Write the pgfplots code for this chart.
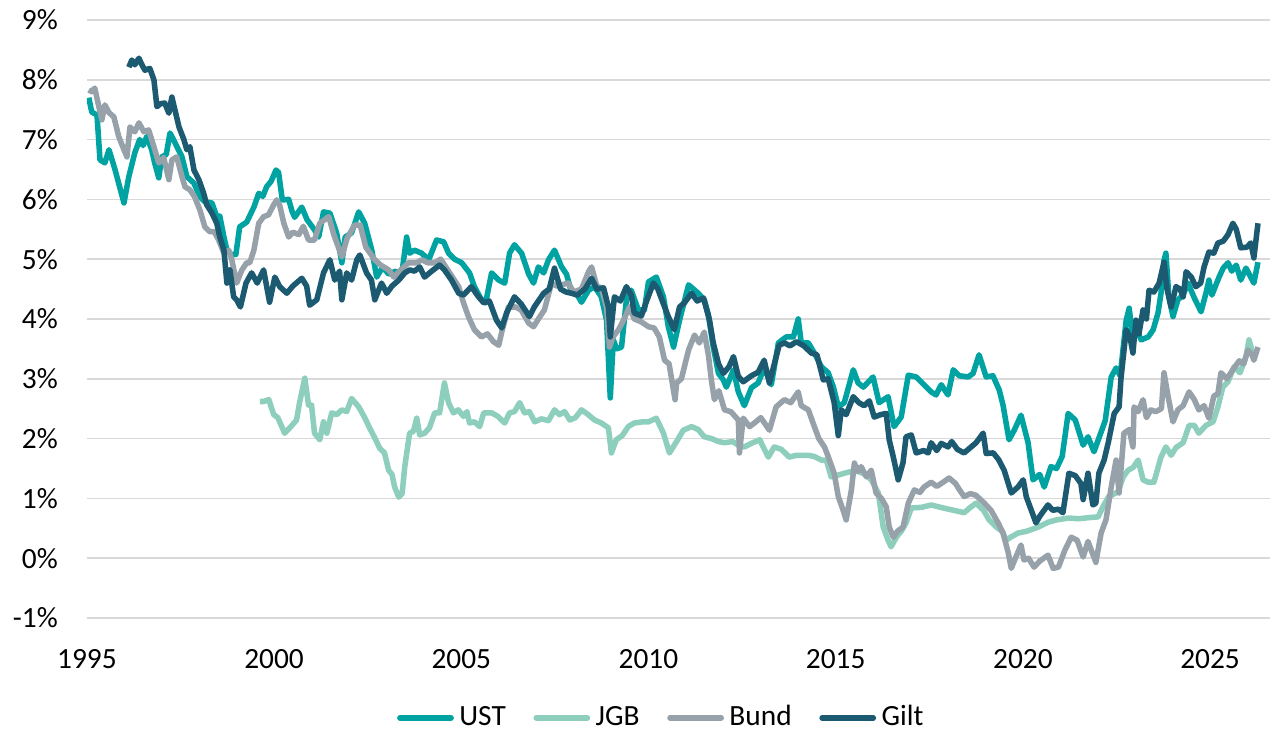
\documentclass[border=0pt]{standalone}
\usepackage{fontspec}
\setmainfont{Carlito}
\usepackage{pgfplots}
\pgfplotsset{compat=1.18}
\definecolor{ust}{RGB}{0,163,161}
\definecolor{jgb}{RGB}{141,207,188}
\definecolor{bund}{RGB}{151,161,169}
\definecolor{gilt}{RGB}{27,90,112}
\definecolor{gridgray}{RGB}{217,217,217}

\begin{document}
\begin{tikzpicture}
\useasboundingbox (-31.4pt,-42.6pt) rectangle (428.6pt,223.3pt);
\begin{axis}[
    scale only axis,
    width=427.5pt, height=216.1pt,
    xmin=1995, xmax=2026.6,
    ymin=-1, ymax=9,
    xtick={1995,2000,...,2025},
    ytick={-1,0,...,9},
    yticklabel={\pgfmathprintnumber{\tick}\%},
    /pgf/number format/assume math mode=true,
    /pgf/number format/1000 sep={},
    ticklabel style={font=\fontsize{10.6}{12}\selectfont, text=black},
    xticklabel style={yshift=-8pt},
    yticklabel style={xshift=-7pt},
    axis line style={draw=none},
    tick style={draw=none},
    ymajorgrids,
    major grid style={color=gridgray, line width=0.6pt},
    every axis plot/.append style={line width=2pt, line join=round, mark=none},
    legend columns=4,
    legend style={at={(0.487,-0.167)}, anchor=center, draw=none, fill=none,
        font=\fontsize{10.6}{12}\selectfont,
        /tikz/every even column/.append style={column sep=8pt}},
    legend image code/.code={\draw[#1, line cap=round] (0pt,0pt) -- (18.5pt,0pt);},
    legend cell align=left,
]
% UST
\addplot[color=ust] coordinates {
(1995.05,7.70) (1995.13,7.46) (1995.27,7.41) (1995.35,6.66) (1995.48,6.61) (1995.59,6.83)
(1995.75,6.50) (1995.99,5.94) (1996.12,6.38) (1996.28,6.78) (1996.41,7.00) (1996.50,6.90)
(1996.60,7.05) (1996.73,6.83) (1996.81,6.61) (1996.92,6.36) (1997.00,6.71) (1997.12,6.75)
(1997.22,7.11) (1997.35,6.95) (1997.54,6.71) (1997.67,6.38) (1997.86,6.27) (1998.02,6.04)
(1998.15,5.96) (1998.34,5.94) (1998.47,5.71) (1998.55,5.72) (1998.66,5.37) (1998.74,5.15)
(1998.87,5.07) (1998.98,5.08) (1999.08,5.54) (1999.27,5.62) (1999.46,5.87) (1999.59,6.10)
(1999.70,6.05) (1999.80,6.21) (1999.92,6.30) (2000.05,6.49) (2000.12,6.45) (2000.22,5.99)
(2000.39,6.00) (2000.48,5.80) (2000.55,5.70) (2000.74,5.87) (2000.88,5.66) (2001.08,5.49)
(2001.19,5.37) (2001.32,5.79) (2001.49,5.77) (2001.67,5.44) (2001.81,4.94) (2001.90,5.37)
(2002.07,5.44) (2002.26,5.79) (2002.42,5.60) (2002.61,5.15) (2002.74,4.70) (2002.90,4.87)
(2003.06,4.75) (2003.25,4.80) (2003.40,4.70) (2003.54,5.37) (2003.62,5.10) (2003.75,5.15)
(2003.94,5.10) (2004.13,4.99) (2004.34,5.32) (2004.53,5.29) (2004.66,5.10) (2004.82,5.00)
(2005.01,4.94) (2005.22,4.77) (2005.35,4.54) (2005.54,4.32) (2005.65,4.27) (2005.81,4.77)
(2006.00,4.65) (2006.16,4.60) (2006.29,5.10) (2006.42,5.24) (2006.61,5.10) (2006.80,4.75)
(2006.93,4.60) (2007.06,4.87) (2007.20,4.77) (2007.33,4.99) (2007.49,5.15) (2007.68,4.87)
(2007.81,4.75) (2007.94,4.45) (2008.10,4.40) (2008.21,4.28) (2008.40,4.48) (2008.56,4.54)
(2008.74,4.37) (2008.88,3.98) (2008.98,2.68) (2009.06,3.65) (2009.15,3.50) (2009.28,3.53)
(2009.41,4.32) (2009.54,4.48) (2009.73,4.15) (2009.89,4.15) (2010.00,4.62) (2010.21,4.70)
(2010.40,4.37) (2010.53,3.87) (2010.67,3.53) (2010.83,3.98) (2011.07,4.57) (2011.33,4.43)
(2011.49,4.32) (2011.60,4.07) (2011.73,3.53) (2011.87,3.09) (2012.00,2.98) (2012.08,2.86)
(2012.27,3.15) (2012.40,2.78) (2012.56,2.55) (2012.75,2.85) (2012.93,2.93) (2013.09,3.18)
(2013.28,2.90) (2013.47,3.60) (2013.68,3.70) (2013.87,3.70) (2014.00,4.00) (2014.08,3.60)
(2014.27,3.60) (2014.43,3.43) (2014.62,3.20) (2014.80,3.10) (2014.94,2.86) (2015.07,2.53)
(2015.23,2.60) (2015.47,3.15) (2015.60,2.93) (2015.74,2.86) (2016.00,3.03) (2016.16,2.60)
(2016.40,2.70) (2016.56,2.20) (2016.75,2.36) (2016.94,3.06) (2017.15,3.03) (2017.36,2.90)
(2017.55,2.78) (2017.68,2.73) (2017.82,2.90) (2018.00,2.73) (2018.14,3.15) (2018.30,3.05)
(2018.54,3.03) (2018.67,3.09) (2018.83,3.40) (2019.02,3.03) (2019.20,3.05) (2019.37,2.81)
(2019.47,2.56) (2019.63,1.98) (2019.77,2.14) (2019.95,2.39) (2020.14,1.93) (2020.27,1.31)
(2020.45,1.40) (2020.57,1.19) (2020.75,1.53) (2020.90,1.50) (2021.05,1.70) (2021.21,2.42)
(2021.40,2.31) (2021.61,1.89) (2021.74,2.03) (2021.90,1.78) (2022.09,2.11) (2022.20,2.30)
(2022.36,3.03) (2022.49,3.18) (2022.60,3.05) (2022.76,3.98) (2022.84,4.18) (2022.94,3.65)
(2023.02,3.85) (2023.16,3.65) (2023.35,3.70) (2023.48,3.82) (2023.61,4.10) (2023.69,4.43)
(2023.77,4.98) (2023.82,5.10) (2023.90,4.37) (2024.01,4.04) (2024.14,4.32) (2024.28,4.40)
(2024.41,4.60) (2024.58,4.35) (2024.76,4.12) (2024.89,4.43) (2024.97,4.65) (2025.05,4.40)
(2025.24,4.70) (2025.35,4.85) (2025.48,4.94) (2025.58,4.80) (2025.70,4.90) (2025.82,4.65)
(2025.96,4.85) (2026.17,4.60) (2026.28,4.95)
};
\addlegendentry{UST}
% JGB
\addplot[color=jgb] coordinates {
(1999.62,2.62) (1999.72,2.62) (1999.86,2.65) (1999.99,2.40) (2000.10,2.35) (2000.28,2.09)
(2000.45,2.20) (2000.60,2.31) (2000.68,2.60) (2000.82,3.01) (2000.92,2.56) (2001.00,2.56)
(2001.08,2.09) (2001.22,1.98) (2001.32,2.28) (2001.41,2.09) (2001.54,2.43) (2001.67,2.40)
(2001.81,2.48) (2001.94,2.45) (2002.07,2.67) (2002.26,2.53) (2002.42,2.35) (2002.55,2.18)
(2002.69,2.01) (2002.82,1.84) (2002.95,1.76) (2003.06,1.47) (2003.15,1.40) (2003.22,1.19)
(2003.33,1.02) (2003.42,1.08) (2003.49,1.53) (2003.62,2.09) (2003.72,2.12) (2003.81,2.34)
(2003.89,2.06) (2004.02,2.09) (2004.15,2.18) (2004.29,2.43) (2004.42,2.43) (2004.55,2.93)
(2004.66,2.60) (2004.79,2.43) (2004.92,2.48) (2005.06,2.37) (2005.15,2.45) (2005.22,2.26)
(2005.35,2.28) (2005.49,2.20) (2005.60,2.43) (2005.81,2.43) (2005.98,2.37) (2006.16,2.26)
(2006.29,2.43) (2006.42,2.45) (2006.56,2.60) (2006.69,2.43) (2006.82,2.45) (2006.96,2.28)
(2007.14,2.33) (2007.33,2.30) (2007.49,2.48) (2007.62,2.40) (2007.76,2.45) (2007.90,2.31)
(2008.05,2.35) (2008.21,2.48) (2008.35,2.42) (2008.56,2.31) (2008.74,2.26) (2008.93,2.18)
(2009.01,1.76) (2009.14,1.98) (2009.30,2.05) (2009.46,2.20) (2009.62,2.26) (2009.85,2.28)
(2010.00,2.28) (2010.21,2.34) (2010.40,2.09) (2010.56,1.76) (2010.75,1.95) (2010.93,2.14)
(2011.15,2.20) (2011.33,2.15) (2011.49,2.03) (2011.68,2.00) (2011.87,1.95) (2012.03,1.93)
(2012.25,1.95) (2012.40,1.89) (2012.56,1.86) (2012.75,1.92) (2012.97,1.98) (2013.20,1.69)
(2013.36,1.86) (2013.55,1.82) (2013.76,1.69) (2013.95,1.72) (2014.27,1.72) (2014.43,1.70)
(2014.62,1.64) (2014.75,1.64) (2014.88,1.36) (2015.02,1.38) (2015.23,1.42) (2015.42,1.45)
(2015.60,1.45) (2015.80,1.40) (2015.95,1.31) (2016.14,1.09) (2016.27,0.52) (2016.40,0.30)
(2016.48,0.19) (2016.62,0.35) (2016.75,0.45) (2016.88,0.59) (2017.02,0.84) (2017.30,0.85)
(2017.55,0.89) (2017.80,0.85) (2018.08,0.81) (2018.30,0.78) (2018.43,0.76) (2018.60,0.85)
(2018.75,0.92) (2018.95,0.80) (2019.10,0.64) (2019.29,0.52) (2019.45,0.45) (2019.55,0.30)
(2019.70,0.36) (2019.87,0.42) (2020.10,0.45) (2020.41,0.52) (2020.67,0.60) (2020.90,0.64)
(2021.21,0.67) (2021.50,0.66) (2021.80,0.68) (2022.01,0.69) (2022.14,0.86) (2022.28,1.02)
(2022.45,1.08) (2022.54,1.11) (2022.68,1.36) (2022.81,1.47) (2022.95,1.52) (2023.08,1.64)
(2023.21,1.31) (2023.35,1.27) (2023.50,1.27) (2023.69,1.69) (2023.82,1.86) (2023.96,1.72)
(2024.09,1.85) (2024.28,1.93) (2024.44,2.22) (2024.58,2.22) (2024.70,2.09) (2024.89,2.22)
(2025.08,2.28) (2025.21,2.53) (2025.34,2.86) (2025.48,2.95) (2025.64,3.20) (2025.80,3.10)
(2025.96,3.37) (2026.04,3.65) (2026.14,3.43)
};
\addlegendentry{JGB}
% Bund
\addplot[color=bund] coordinates {
(1995.05,7.83) (1995.13,7.80) (1995.21,7.86) (1995.32,7.55) (1995.40,7.33) (1995.48,7.58)
(1995.59,7.45) (1995.72,7.38) (1995.85,7.05) (1995.99,6.83) (1996.07,6.71) (1996.15,7.21)
(1996.28,7.13) (1996.39,7.28) (1996.52,7.13) (1996.65,7.16) (1996.79,6.88) (1996.92,6.61)
(1997.05,6.70) (1997.19,6.33) (1997.27,6.66) (1997.40,6.71) (1997.54,6.38) (1997.62,6.21)
(1997.75,6.16) (1997.88,6.04) (1998.02,5.82) (1998.15,5.54) (1998.28,5.46) (1998.40,5.46)
(1998.52,5.32) (1998.66,5.10) (1998.79,5.15) (1998.87,4.99) (1999.00,4.60) (1999.14,4.82)
(1999.27,4.94) (1999.35,4.94) (1999.46,5.15) (1999.59,5.60) (1999.72,5.71) (1999.85,5.74)
(1999.99,5.91) (2000.07,5.99) (2000.15,5.90) (2000.26,5.60) (2000.39,5.37) (2000.50,5.45)
(2000.66,5.41) (2000.78,5.55) (2000.92,5.32) (2001.08,5.32) (2001.22,5.60) (2001.46,5.71)
(2001.60,5.40) (2001.81,5.04) (2001.95,5.35) (2002.15,5.57) (2002.30,5.57) (2002.45,5.20)
(2002.69,4.99) (2002.85,4.90) (2003.06,4.82) (2003.20,4.70) (2003.35,4.80) (2003.59,4.94)
(2003.80,4.94) (2003.95,4.99) (2004.10,4.94) (2004.29,4.94) (2004.45,5.00) (2004.69,4.77)
(2004.93,4.54) (2005.06,4.27) (2005.19,4.04) (2005.35,3.82) (2005.54,3.70) (2005.70,3.75)
(2005.86,3.62) (2006.00,3.56) (2006.08,3.78) (2006.26,4.20) (2006.45,4.20) (2006.60,4.15)
(2006.80,3.93) (2006.93,3.87) (2007.06,4.00) (2007.22,4.15) (2007.41,4.60) (2007.55,4.55)
(2007.86,4.60) (2008.00,4.45) (2008.21,4.50) (2008.40,4.79) (2008.48,4.87) (2008.62,4.55)
(2008.74,4.52) (2008.88,4.20) (2008.96,3.53) (2009.05,3.70) (2009.20,3.82) (2009.35,4.00)
(2009.49,4.20) (2009.62,4.00) (2009.81,3.95) (2010.00,3.87) (2010.15,3.85) (2010.29,3.70)
(2010.43,3.31) (2010.55,3.25) (2010.71,2.65) (2010.75,2.93) (2010.88,3.00) (2011.07,3.48)
(2011.23,3.73) (2011.36,3.60) (2011.49,3.78) (2011.60,3.40) (2011.68,2.98) (2011.76,2.65)
(2011.88,2.80) (2012.03,2.48) (2012.20,2.45) (2012.40,2.31) (2012.43,1.76) (2012.53,2.34)
(2012.70,2.20) (2012.83,2.26) (2013.00,2.35) (2013.23,2.14) (2013.41,2.53) (2013.63,2.65)
(2013.80,2.60) (2014.00,2.78) (2014.08,2.55) (2014.27,2.48) (2014.43,2.20) (2014.55,2.00)
(2014.70,1.86) (2014.80,1.70) (2014.96,1.42) (2015.07,1.03) (2015.20,0.80) (2015.28,0.64)
(2015.42,1.14) (2015.50,1.59) (2015.60,1.45) (2015.68,1.53) (2015.82,1.36) (2015.95,1.47)
(2016.08,1.09) (2016.22,1.00) (2016.35,0.86) (2016.43,0.52) (2016.54,0.35) (2016.65,0.45)
(2016.80,0.52) (2016.94,0.92) (2017.10,1.14) (2017.25,1.10) (2017.36,1.19) (2017.55,1.27)
(2017.70,1.20) (2017.87,1.27) (2018.03,1.34) (2018.20,1.25) (2018.30,1.15) (2018.43,1.03)
(2018.60,1.08) (2018.75,1.05) (2018.97,0.92) (2019.15,0.80) (2019.34,0.59) (2019.47,0.42)
(2019.61,0.09) (2019.69,-0.17) (2019.80,0.00) (2019.95,0.22) (2020.03,-0.03) (2020.15,0.00)
(2020.30,-0.15) (2020.45,-0.05) (2020.67,0.05) (2020.81,-0.17) (2020.95,-0.15) (2021.12,0.13)
(2021.29,0.35) (2021.45,0.30) (2021.61,0.02) (2021.74,0.28) (2021.95,-0.07) (2022.09,0.42)
(2022.22,0.64) (2022.36,1.19) (2022.49,1.64) (2022.57,1.09) (2022.70,2.09) (2022.84,2.15)
(2022.94,1.86) (2022.97,2.53) (2023.08,2.45) (2023.21,2.65) (2023.30,2.35) (2023.42,2.48)
(2023.55,2.45) (2023.70,2.50) (2023.77,3.10) (2023.88,2.70) (2024.01,2.28) (2024.14,2.48)
(2024.28,2.55) (2024.44,2.78) (2024.58,2.65) (2024.70,2.48) (2024.84,2.55) (2024.97,2.34)
(2025.10,2.71) (2025.21,2.75) (2025.29,3.10) (2025.45,3.00) (2025.64,3.18) (2025.78,3.30)
(2025.90,3.25) (2026.01,3.48) (2026.12,3.40) (2026.17,3.31) (2026.28,3.53)
};
\addlegendentry{Bund}
% Gilt
\addplot[color=gilt] coordinates {
(1996.12,8.21) (1996.20,8.33) (1996.28,8.25) (1996.39,8.36) (1996.47,8.25) (1996.55,8.16)
(1996.68,8.19) (1996.79,8.00) (1996.87,7.55) (1996.97,7.60) (1997.08,7.61) (1997.19,7.44)
(1997.27,7.71) (1997.35,7.50) (1997.46,7.21) (1997.59,7.00) (1997.67,6.83) (1997.75,6.88)
(1997.86,6.49) (1997.99,6.33) (1998.12,6.10) (1998.20,5.91) (1998.34,5.77) (1998.47,5.60)
(1998.55,5.37) (1998.66,5.15) (1998.74,4.60) (1998.82,4.82) (1998.92,4.37) (1999.00,4.32)
(1999.10,4.20) (1999.25,4.60) (1999.40,4.77) (1999.55,4.60) (1999.72,4.82) (1999.88,4.28)
(2000.02,4.70) (2000.15,4.54) (2000.34,4.43) (2000.50,4.55) (2000.74,4.68) (2000.87,4.55)
(2000.95,4.23) (2001.14,4.32) (2001.32,4.77) (2001.49,4.99) (2001.62,4.65) (2001.75,4.80)
(2001.81,4.32) (2001.94,4.77) (2002.07,4.65) (2002.21,4.99) (2002.29,5.07) (2002.47,4.77)
(2002.60,4.65) (2002.69,4.32) (2002.87,4.60) (2003.01,4.43) (2003.15,4.55) (2003.33,4.65)
(2003.49,4.77) (2003.62,4.82) (2003.75,4.80) (2003.89,4.87) (2004.02,4.70) (2004.21,4.80)
(2004.42,4.90) (2004.55,4.82) (2004.74,4.65) (2004.93,4.43) (2005.06,4.40) (2005.27,4.54)
(2005.46,4.37) (2005.60,4.27) (2005.75,4.30) (2005.94,3.98) (2006.08,3.85) (2006.21,4.10)
(2006.42,4.37) (2006.60,4.25) (2006.82,4.04) (2006.95,4.20) (2007.20,4.43) (2007.35,4.50)
(2007.49,4.85) (2007.65,4.50) (2007.80,4.45) (2007.94,4.43) (2008.10,4.40) (2008.30,4.50)
(2008.48,4.68) (2008.62,4.50) (2008.80,4.52) (2008.93,4.20) (2008.98,3.70) (2009.09,4.37)
(2009.25,4.30) (2009.41,4.54) (2009.54,4.40) (2009.62,4.10) (2009.81,4.05) (2009.95,4.30)
(2010.13,4.60) (2010.25,4.50) (2010.40,4.25) (2010.53,4.04) (2010.69,3.82) (2010.83,4.20)
(2010.96,4.27) (2011.15,4.43) (2011.30,4.30) (2011.47,4.35) (2011.63,3.98) (2011.73,3.60)
(2011.87,3.25) (2012.00,3.09) (2012.15,3.20) (2012.27,3.37) (2012.40,3.04) (2012.53,2.95)
(2012.75,3.05) (2012.93,3.11) (2013.09,3.31) (2013.23,2.93) (2013.49,3.56) (2013.63,3.60)
(2013.78,3.55) (2013.95,3.62) (2014.15,3.55) (2014.35,3.43) (2014.50,3.40) (2014.67,2.98)
(2014.80,3.00) (2014.96,2.60) (2015.07,2.05) (2015.15,2.48) (2015.28,2.40) (2015.47,2.70)
(2015.62,2.60) (2015.76,2.55) (2015.90,2.63) (2016.03,2.36) (2016.20,2.40) (2016.35,2.42)
(2016.43,1.98) (2016.54,1.69) (2016.67,1.31) (2016.80,1.60) (2016.88,2.03) (2017.02,2.06)
(2017.15,1.76) (2017.35,1.80) (2017.47,1.76) (2017.55,1.93) (2017.70,1.80) (2017.82,1.92)
(2018.00,1.86) (2018.10,1.95) (2018.25,1.82) (2018.43,1.76) (2018.60,1.85) (2018.75,1.93)
(2018.94,2.09) (2019.02,1.75) (2019.21,1.76) (2019.35,1.65) (2019.50,1.47) (2019.69,1.09)
(2019.87,1.19) (2020.01,1.31) (2020.09,1.03) (2020.22,0.81) (2020.35,0.59) (2020.45,0.70)
(2020.67,0.89) (2020.80,0.80) (2020.95,0.82) (2021.07,0.76) (2021.23,1.42) (2021.40,1.38)
(2021.55,1.25) (2021.61,0.98) (2021.74,1.42) (2021.87,0.89) (2021.95,0.92) (2022.03,1.42)
(2022.17,1.64) (2022.28,1.93) (2022.44,2.42) (2022.57,2.53) (2022.62,3.00) (2022.76,3.82)
(2022.86,3.70) (2022.94,3.43) (2023.02,3.98) (2023.10,3.75) (2023.21,4.15) (2023.30,4.00)
(2023.37,4.48) (2023.50,4.45) (2023.64,4.60) (2023.77,4.95) (2023.85,4.50) (2023.96,4.20)
(2024.09,4.54) (2024.20,4.50) (2024.28,4.37) (2024.36,4.79) (2024.50,4.70) (2024.62,4.54)
(2024.75,4.60) (2024.84,4.87) (2024.97,5.12) (2025.10,5.10) (2025.21,5.27) (2025.35,5.30)
(2025.48,5.41) (2025.61,5.60) (2025.70,5.50) (2025.82,5.19) (2025.98,5.20) (2026.09,5.27)
(2026.17,5.02) (2026.28,5.60)
};
\addlegendentry{Gilt}
\end{axis}
\end{tikzpicture}
\end{document}
